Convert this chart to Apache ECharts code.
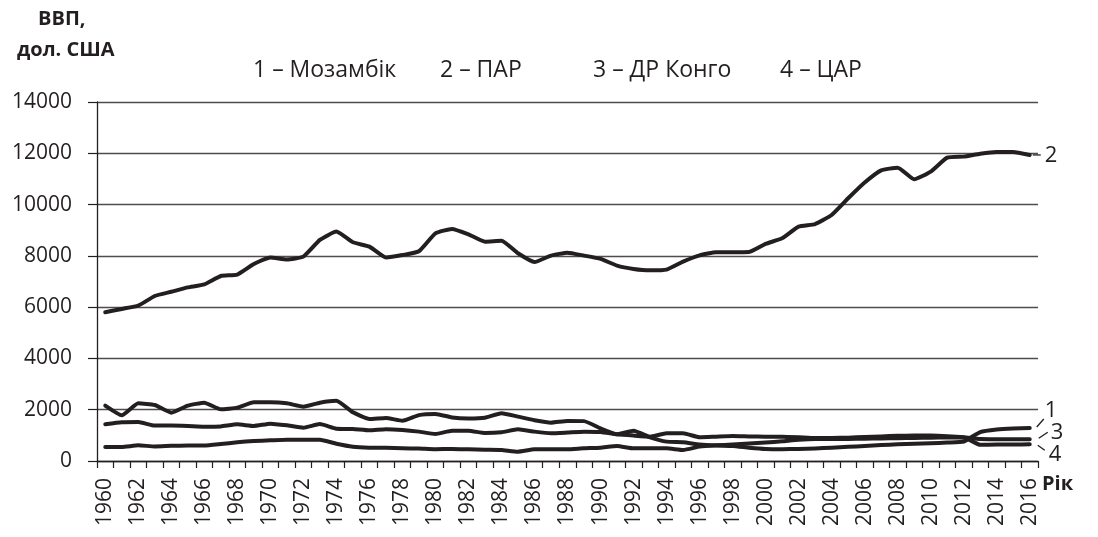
<!DOCTYPE html>
<html>
<head>
<meta charset="utf-8">
<script src="https://cdn.jsdelivr.net/npm/echarts@6/dist/echarts.min.js"></script>
<style>
  html, body { margin: 0; padding: 0; background: #fff; }
  #chart { width: 1098px; height: 537px; }
</style>
</head>
<body>
<div id="chart"></div>
<script>
// роки 1960–2016
const years = [];
for (let y = 1960; y <= 2016; y++) years.push(String(y));

// ВВП на душу населення, дол. США
const mozambique = [
  2157, 1780, 2250, 2185, 1885, 2160, 2275, 2015, 2080, 2290,
  2290, 2250, 2120, 2275, 2350, 1900, 1640, 1680, 1570, 1790,
  1835, 1700, 1660, 1690, 1865, 1730, 1590, 1495, 1560, 1555,
  1270, 1040, 1180, 925, 755, 730, 640, 600, 585, 520,
  470, 460, 470, 490, 520, 555, 585, 620, 650, 670,
  690, 720, 760, 1130, 1230, 1270, 1285
];
const southAfrica = [
  5800, 5930, 6060, 6435, 6600, 6770, 6890, 7215, 7270, 7680,
  7940, 7860, 7970, 8620, 8945, 8530, 8360, 7940, 8030, 8180,
  8880, 9050, 8840, 8555, 8590, 8100, 7760, 8010, 8125, 8010,
  7880, 7620, 7490, 7435, 7465, 7775, 8020, 8140, 8140, 8150,
  8465, 8685, 9140, 9240, 9595, 10245, 10860, 11335, 11440, 10985,
  11285, 11830, 11870, 11985, 12050, 12050, 11935
];
const drCongo = [
  1430, 1510, 1520, 1380, 1380, 1365, 1340, 1350, 1430, 1365,
  1455, 1390, 1300, 1440, 1260, 1250, 1195, 1240, 1210, 1145,
  1055, 1180, 1180, 1090, 1120, 1235, 1145, 1080, 1110, 1145,
  1130, 1040, 990, 950, 1080, 1080, 925, 950, 975, 960,
  950, 950, 930, 900, 900, 910, 940, 960, 980, 990,
  990, 970, 930, 860, 850, 845, 845
];
const car = [
  546, 546, 610, 570, 590, 600, 600, 660, 730, 780,
  805, 830, 830, 830, 675, 560, 520, 515, 495, 485,
  460, 470, 455, 440, 430, 365, 455, 455, 460, 495,
  520, 585, 495, 495, 495, 430, 560, 610, 640, 680,
  720, 770, 830, 860, 860, 860, 870, 880, 890, 900,
  910, 920, 920, 630, 640, 645, 650
];

const seriesNames = ['1', '2', '3', '4'];
const legendText = ['1 – Мозамбік', '2 – ПАР', '3 – ДР Конго', '4 – ЦАР'];

const ink = '#231f20';
const font = '"Open Sans", "Noto Sans", sans-serif';

const chart = echarts.init(document.getElementById('chart'));

const line = (name, data) => ({
  name: name,
  type: 'line',
  data: data,
  symbol: 'none',
  smooth: 0.15,
  lineStyle: { color: ink, width: 4, cap: 'round', join: 'round' }
});

chart.setOption({
  animation: false,
  grid: { left: 97, right: 60, top: 102, bottom: 76, outerBoundsMode: 'none' },
  xAxis: {
    type: 'category',
    data: years,
    boundaryGap: true,
    axisLine: { lineStyle: { color: ink, width: 1.3 } },
    axisTick: { show: true, interval: 0, length: 7, lineStyle: { color: ink, width: 1.2 } },
    axisLabel: {
      interval: 1,
      rotate: 90,
      margin: 17,
      color: ink,
      fontFamily: font,
      fontSize: 21
    }
  },
  yAxis: {
    type: 'value',
    min: 0,
    max: 14000,
    interval: 2000,
    axisLine: { show: true, lineStyle: { color: ink, width: 1.3 } },
    axisTick: { show: true, length: 9, lineStyle: { color: ink, width: 1.2 } },
    axisLabel: { color: ink, fontFamily: font, fontSize: 21, margin: 25, formatter: v => String(v) },
    splitLine: { lineStyle: { color: '#4d4d4d', width: 1.4 } }
  },
  series: [
    line(seriesNames[0], mozambique),
    line(seriesNames[1], southAfrica),
    line(seriesNames[2], drCongo),
    line(seriesNames[3], car)
  ]
});

// підписи, легенда, мітки кінців ліній
const last = years.length - 1;
const endPx = [mozambique, southAfrica, drCongo, car].map((d, i) =>
  chart.convertToPixel({ seriesIndex: i }, [last, d[last]])
);
const labelFont = (size, bold) => ({ fontFamily: font, fontSize: size, fontWeight: bold ? 'bold' : 'normal', fill: ink });

const graphics = [
  { type: 'text', left: 38, top: 9, style: Object.assign({ text: 'ВВП,' }, labelFont(20, true)) },
  { type: 'text', left: 17, top: 40, style: Object.assign({ text: 'дол. США' }, labelFont(20, true)) },
  { type: 'text', left: 1042, top: 474, style: Object.assign({ text: 'Рік' }, labelFont(20, true)) }
];
const legendX = [253, 440, 593, 780];
legendText.forEach((t, i) => {
  graphics.push({ type: 'text', left: legendX[i], top: 59, style: Object.assign({ text: t }, labelFont(23, false)) });
});

// "2" – горизонтальна виноска
const p2 = endPx[1];
graphics.push({ type: 'line', shape: { x1: p2[0] + 3, y1: p2[1], x2: p2[0] + 11, y2: p2[1] }, style: { stroke: ink, lineWidth: 1.3 } });
graphics.push({ type: 'text', x: p2[0] + 15, y: p2[1] + 1, style: Object.assign({ text: '2', textVerticalAlign: 'middle' }, labelFont(22, false)) });
// "1"
const p1 = endPx[0];
graphics.push({ type: 'line', shape: { x1: p1[0] + 7, y1: p1[1] - 1, x2: p1[0] + 14, y2: p1[1] - 9 }, style: { stroke: ink, lineWidth: 1.3 } });
graphics.push({ type: 'text', x: p1[0] + 15, y: p1[1] - 17, style: Object.assign({ text: '1', textVerticalAlign: 'middle' }, labelFont(22, false)) });
// "3"
const p3 = endPx[2];
graphics.push({ type: 'line', shape: { x1: p3[0] + 9, y1: p3[1] - 1, x2: p3[0] + 18, y2: p3[1] - 7 }, style: { stroke: ink, lineWidth: 1.3 } });
graphics.push({ type: 'text', x: p3[0] + 21, y: p3[1] - 7, style: Object.assign({ text: '3', textVerticalAlign: 'middle' }, labelFont(22, false)) });
// "4"
const p4 = endPx[3];
graphics.push({ type: 'line', shape: { x1: p4[0] + 8, y1: p4[1] + 1, x2: p4[0] + 15, y2: p4[1] + 6 }, style: { stroke: ink, lineWidth: 1.3 } });
graphics.push({ type: 'text', x: p4[0] + 19, y: p4[1] + 10, style: Object.assign({ text: '4', textVerticalAlign: 'middle' }, labelFont(22, false)) });

chart.setOption({ graphic: graphics });
</script>
</body>
</html>
